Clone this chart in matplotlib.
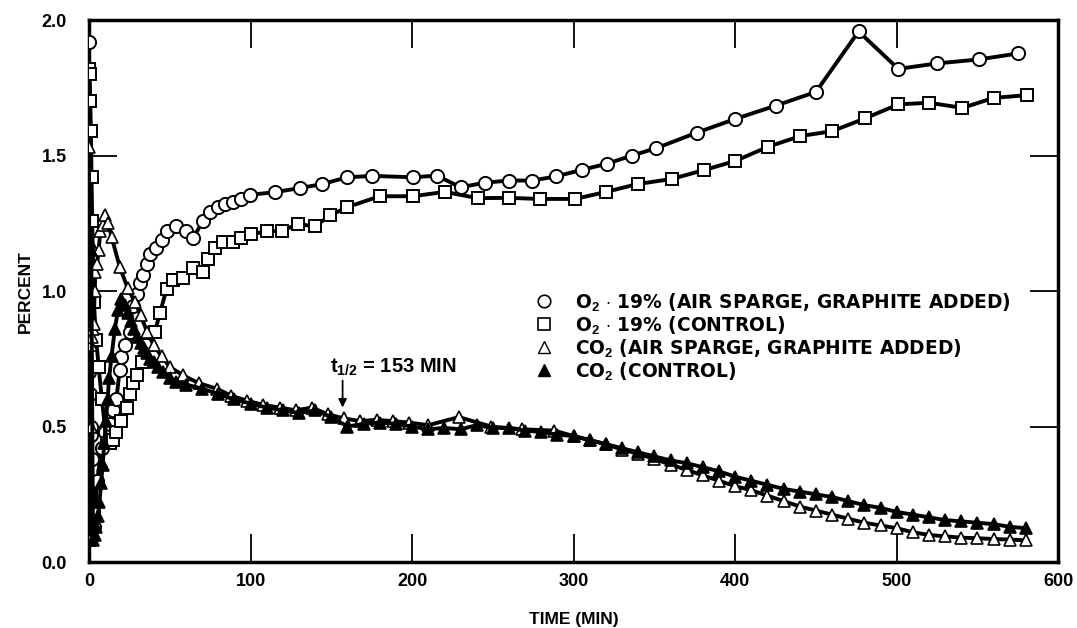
import matplotlib
matplotlib.use("Agg")
import matplotlib.pyplot as plt
from matplotlib.lines import Line2D

plt.rcParams['font.family'] = ['Liberation Sans', 'DejaVu Sans']
plt.rcParams['font.weight'] = 'bold'
plt.rcParams['mathtext.fontset'] = 'custom'
plt.rcParams['mathtext.rm'] = 'Liberation Sans:bold'
plt.rcParams['mathtext.it'] = 'Liberation Sans:bold'
plt.rcParams['mathtext.bf'] = 'Liberation Sans:bold'

# ---- data ----
o2_sparge_t = [0, 0.3, 0.6, 1, 1.4, 1.8, 2.4, 3, 5, 8, 10, 13, 15, 17, 19, 20, 22, 25.4, 27,
               29.5, 31.5, 33.5, 35.7, 37.7, 41.8, 45, 48, 54, 60, 64.5, 70.7, 74.8, 80, 84,
               89, 94, 99.6, 115, 130.5, 144.5, 160, 175.4, 200.5, 215.4, 230, 245, 260,
               274.4, 289, 305, 320.7, 336, 351, 376.4, 400, 425, 450, 476.4, 501, 524.8,
               551, 575.3]
o2_sparge_y = [1.92, 0.70, 0.62, 0.50, 0.47, 0.38, 0.19, 0.13, 0.30, 0.42, 0.48, 0.51, 0.56,
               0.60, 0.71, 0.755, 0.80, 0.85, 0.945, 0.99, 1.03, 1.06, 1.10, 1.135, 1.16,
               1.19, 1.22, 1.24, 1.22, 1.196, 1.26, 1.29, 1.31, 1.32, 1.33, 1.34, 1.355,
               1.365, 1.38, 1.395, 1.42, 1.425, 1.42, 1.426, 1.383, 1.40, 1.408, 1.408,
               1.423, 1.447, 1.47, 1.50, 1.527, 1.585, 1.635, 1.684, 1.735, 1.958, 1.82,
               1.84, 1.855, 1.877]

o2_control_t = [0, 0.4, 0.8, 1.2, 1.6, 2, 3, 4.5, 6, 8, 11, 13, 15, 17, 20, 23.3, 25.4, 27.4,
                30, 32.6, 36, 40.8, 44, 48, 52, 58, 64.5, 70.6, 73.6, 78, 83, 89, 94.4, 100,
                110, 119.6, 129.5, 139.8, 149.5, 160, 180, 200.6, 220.3, 240.6, 260.2, 279,
                301, 320, 339.7, 361, 381, 400, 420.5, 440.3, 460, 480.3, 501, 520, 540.7,
                560, 580.5]
o2_control_y = [1.82, 1.80, 1.70, 1.59, 1.42, 1.26, 0.96, 0.82, 0.72, 0.60, 0.44, 0.44, 0.45,
                0.48, 0.52, 0.57, 0.62, 0.66, 0.69, 0.74, 0.80, 0.85, 0.92, 1.007, 1.04, 1.05,
                1.086, 1.07, 1.12, 1.16, 1.18, 1.18, 1.196, 1.21, 1.22, 1.223, 1.247, 1.239,
                1.28, 1.31, 1.35, 1.35, 1.366, 1.343, 1.344, 1.34, 1.34, 1.366, 1.395, 1.414,
                1.447, 1.48, 1.533, 1.572, 1.59, 1.637, 1.689, 1.695, 1.676, 1.713, 1.723]

co2_sparge_t = [0, 0.5, 1, 1.5, 2, 2.5, 3, 3.5, 4, 5, 6, 7, 8.5, 10, 12, 14, 19, 24, 28.5,
                32, 36, 40, 45, 50, 58, 68, 79, 88, 98, 108, 118, 128, 138, 148, 158, 168,
                178, 188, 198, 210, 229, 249, 268, 288, 300, 310, 320, 330, 340, 350, 360,
                370, 380, 390, 400, 410, 420, 430, 440, 450, 460, 470, 480, 490, 500, 510,
                520, 530, 540, 550, 560, 570, 580]
co2_sparge_y = [1.53, 0.08, 0.50, 0.80, 0.83, 0.86, 0.88, 1.00, 1.07, 1.10, 1.15, 1.22,
                1.245, 1.28, 1.25, 1.20, 1.09, 1.01, 0.96, 0.91, 0.85, 0.80, 0.76, 0.72,
                0.69, 0.66, 0.64, 0.614, 0.595, 0.58, 0.57, 0.56, 0.57, 0.545, 0.53, 0.52,
                0.525, 0.52, 0.515, 0.505, 0.535, 0.50, 0.49, 0.485, 0.465, 0.45, 0.435,
                0.415, 0.40, 0.38, 0.36, 0.34, 0.32, 0.30, 0.28, 0.265, 0.245, 0.225, 0.205,
                0.19, 0.175, 0.16, 0.145, 0.135, 0.125, 0.11, 0.10, 0.095, 0.09, 0.088,
                0.085, 0.083, 0.08]

co2_control_t = [0, 0.7, 1.4, 2.5, 3.5, 4.5, 5.5, 6.5, 7.5, 8.5, 9.5, 10.5, 11.5, 12.5, 14,
                 16, 18, 20, 22, 24, 26, 28, 30, 32, 34, 36, 38, 40, 43, 46, 50, 54, 60, 70,
                 80, 90, 100, 110, 120, 130, 140, 150, 160, 170, 180, 190, 200, 210, 220,
                 230, 240, 250, 260, 270, 280, 290, 300, 310, 320, 330, 340, 350, 360, 370,
                 380, 390, 400, 410, 420, 430, 440, 450, 460, 470, 480, 490, 500, 510, 520,
                 530, 540, 550, 560, 570, 580]
co2_control_y = [1.22, 1.18, 1.15, 0.08, 0.10, 0.13, 0.17, 0.22, 0.29, 0.36, 0.44, 0.52,
                 0.60, 0.68, 0.76, 0.86, 0.93, 0.97, 0.95, 0.92, 0.89, 0.86, 0.83, 0.81,
                 0.79, 0.77, 0.75, 0.74, 0.72, 0.70, 0.68, 0.665, 0.655, 0.64, 0.62, 0.60,
                 0.585, 0.57, 0.56, 0.55, 0.56, 0.535, 0.50, 0.51, 0.515, 0.51, 0.50, 0.49,
                 0.495, 0.49, 0.505, 0.495, 0.495, 0.485, 0.48, 0.47, 0.465, 0.45, 0.435,
                 0.42, 0.405, 0.39, 0.375, 0.365, 0.35, 0.335, 0.315, 0.30, 0.285, 0.27,
                 0.26, 0.25, 0.24, 0.225, 0.21, 0.20, 0.185, 0.175, 0.165, 0.155, 0.15,
                 0.145, 0.14, 0.13, 0.125]

legend_labels = [r'O$_2$ $\cdot$ 19% (AIR SPARGE, GRAPHITE ADDED)',
                 r'O$_2$ $\cdot$ 19% (CONTROL)',
                 r'CO$_2$ (AIR SPARGE, GRAPHITE ADDED)',
                 r'CO$_2$ (CONTROL)']
x_ticks = [0, 100, 200, 300, 400, 500, 600]
y_ticks = [0.0, 0.5, 1.0, 1.5, 2.0]
half_life = 153

# ---- figure ----
fig = plt.figure(figsize=(10.77, 6.28), dpi=100)
ax = fig.add_axes([0.0826, 0.105, 0.900, 0.863])

lw = 2.8
ax.plot(o2_sparge_t, o2_sparge_y, '-', color='black', lw=lw, marker='o', ms=9.5,
        mfc='white', mec='black', mew=1.4, zorder=3)
ax.plot(o2_control_t, o2_control_y, '-', color='black', lw=lw, marker='s', ms=8.5,
        mfc='white', mec='black', mew=1.4, zorder=3)
ax.plot(co2_sparge_t, co2_sparge_y, '-', color='black', lw=lw, marker='^', ms=9,
        mfc='white', mec='black', mew=1.2, zorder=4)
ax.plot(co2_control_t, co2_control_y, '-', color='black', lw=lw, marker='^', ms=9,
        mfc='black', mec='black', mew=1.2, zorder=5)

ax.set_xlim(0, 600)
ax.set_ylim(0, 2.0)
ax.set_xticks(x_ticks)
ax.set_yticks(y_ticks)
ax.set_xticklabels([str(v) for v in x_ticks], fontsize=13, fontweight='bold')
ax.set_yticklabels(['%.1f' % v for v in y_ticks], fontsize=13, fontweight='bold')
ax.tick_params(axis='both', direction='in', length=20, width=1.3, top=True, right=True)
ax.tick_params(axis='y', pad=16)
ax.tick_params(axis='x', pad=8)
for s in ax.spines.values():
    s.set_linewidth(2.5)

ax.set_xlabel('TIME (MIN)', fontsize=12.5, fontweight='bold', labelpad=16)
ax.set_ylabel('PERCENT', fontsize=12.5, fontweight='bold', labelpad=6)

# half-life annotation
ax.annotate('', xy=(half_life + 4, 0.56), xytext=(half_life + 4, 0.68),
            arrowprops=dict(arrowstyle='-|>', color='black', lw=1.3, mutation_scale=12))
ax.text(half_life - 4, 0.72, r't$_{1/2}$ = %d MIN' % half_life, fontsize=14.5,
        fontweight='bold', ha='left', va='center')

handles = [
    Line2D([], [], ls='none', marker='o', ms=9, mfc='white', mec='black', mew=1.2),
    Line2D([], [], ls='none', marker='s', ms=8.5, mfc='white', mec='black', mew=1.2),
    Line2D([], [], ls='none', marker='^', ms=9, mfc='white', mec='black', mew=1.0),
    Line2D([], [], ls='none', marker='^', ms=9, mfc='black', mec='black', mew=1.0),
]
leg = ax.legend(handles, legend_labels, loc='upper left', bbox_to_anchor=(0.452, 0.514),
                frameon=False, prop={'family': 'DejaVu Sans', 'weight': 'bold', 'size': 13.4},
                labelspacing=0.05, handlelength=1.0, handletextpad=1.2, borderaxespad=0)

fig.savefig('out.png', dpi=100)
